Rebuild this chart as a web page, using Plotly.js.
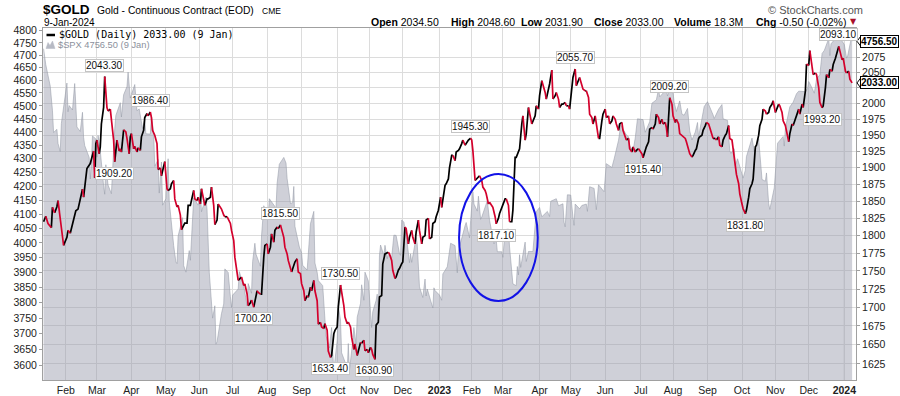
<!DOCTYPE html>
<html><head><meta charset="utf-8">
<script src="https://cdn.plot.ly/plotly-3.0.1.min.js"></script>
<style>html,body{margin:0;padding:0;background:#fff;}#chart{width:900px;height:396px;}</style>
</head><body><div id="chart"></div>
<script>
// ---------------- DATA ----------------
const goldDates = [
'2022-01-12','2022-01-14','2022-01-16','2022-01-19','2022-01-20','2022-01-22','2022-01-24','2022-01-25','2022-01-27','2022-01-29','2022-01-30',
'2022-02-02','2022-02-03','2022-02-05','2022-02-08','2022-02-10','2022-02-12','2022-02-14','2022-02-16','2022-02-17','2022-02-19','2022-02-20','2022-02-23','2022-02-24','2022-02-26','2022-02-27','2022-02-28',
'2022-03-01','2022-03-03','2022-03-04','2022-03-05','2022-03-07','2022-03-08','2022-03-10','2022-03-11','2022-03-13','2022-03-14','2022-03-16','2022-03-17','2022-03-19','2022-03-21','2022-03-22','2022-03-23','2022-03-25','2022-03-27','2022-03-28','2022-03-30','2022-03-31',
'2022-04-01','2022-04-03','2022-04-04','2022-04-06','2022-04-07','2022-04-09','2022-04-10','2022-04-12','2022-04-13','2022-04-15','2022-04-16','2022-04-18','2022-04-19','2022-04-20','2022-04-22','2022-04-24','2022-04-25','2022-04-27','2022-04-28','2022-04-30',
'2022-05-01','2022-05-03','2022-05-04','2022-05-06','2022-05-07','2022-05-09','2022-05-10','2022-05-12','2022-05-13','2022-05-15','2022-05-16','2022-05-18','2022-05-19','2022-05-21','2022-05-22','2022-05-24','2022-05-25','2022-05-27','2022-05-28','2022-05-30','2022-05-31',
'2022-06-02','2022-06-03','2022-06-05','2022-06-06','2022-06-08','2022-06-09','2022-06-11','2022-06-12','2022-06-14','2022-06-15','2022-06-17','2022-06-18','2022-06-20','2022-06-21','2022-06-23','2022-06-24','2022-06-26','2022-06-29','2022-06-30',
'2022-07-02','2022-07-03','2022-07-05','2022-07-06','2022-07-08','2022-07-09','2022-07-11','2022-07-12','2022-07-14','2022-07-15','2022-07-17','2022-07-18','2022-07-20','2022-07-21','2022-07-23','2022-07-24','2022-07-26','2022-07-27','2022-07-29','2022-07-30',
'2022-08-01','2022-08-02','2022-08-04','2022-08-05','2022-08-07','2022-08-08','2022-08-10','2022-08-11','2022-08-13','2022-08-14','2022-08-16','2022-08-17','2022-08-19','2022-08-20','2022-08-22','2022-08-23','2022-08-25','2022-08-26','2022-08-28','2022-08-29','2022-08-31',
'2022-09-01','2022-09-03','2022-09-04','2022-09-06','2022-09-07','2022-09-09','2022-09-10','2022-09-12','2022-09-13','2022-09-15','2022-09-16','2022-09-18','2022-09-19','2022-09-21','2022-09-22','2022-09-24','2022-09-25','2022-09-27','2022-09-28','2022-09-30',
'2022-10-01','2022-10-03','2022-10-04','2022-10-06','2022-10-07','2022-10-09','2022-10-10','2022-10-12','2022-10-13','2022-10-15','2022-10-16','2022-10-18','2022-10-19','2022-10-21','2022-10-22','2022-10-24','2022-10-25','2022-10-27','2022-10-28','2022-10-30','2022-10-31',
'2022-11-02','2022-11-03','2022-11-04','2022-11-06','2022-11-07','2022-11-09','2022-11-10','2022-11-12','2022-11-13','2022-11-15','2022-11-16','2022-11-18','2022-11-19','2022-11-21','2022-11-22','2022-11-24','2022-11-25','2022-11-27','2022-11-28','2022-11-30',
'2022-12-01','2022-12-03','2022-12-04','2022-12-06','2022-12-07','2022-12-09','2022-12-10','2022-12-12','2022-12-13','2022-12-15','2022-12-16','2022-12-18','2022-12-19','2022-12-21','2022-12-22','2022-12-24','2022-12-25','2022-12-27','2022-12-28','2022-12-30','2022-12-31',
'2023-01-02','2023-01-04','2023-01-05','2023-01-06','2023-01-08','2023-01-09','2023-01-11','2023-01-12','2023-01-14','2023-01-15','2023-01-17','2023-01-18','2023-01-20','2023-01-21','2023-01-23','2023-01-24','2023-01-26','2023-01-27','2023-01-29','2023-01-31',
'2023-02-01','2023-02-02','2023-02-04','2023-02-05','2023-02-07','2023-02-08','2023-02-10','2023-02-11','2023-02-13','2023-02-14','2023-02-16','2023-02-17','2023-02-19','2023-02-20','2023-02-22','2023-02-23','2023-02-25','2023-02-26','2023-02-28',
'2023-03-01','2023-03-03','2023-03-04','2023-03-06','2023-03-07','2023-03-09','2023-03-10','2023-03-11','2023-03-12','2023-03-13','2023-03-15','2023-03-16','2023-03-18','2023-03-19','2023-03-21','2023-03-22','2023-03-24','2023-03-25','2023-03-27','2023-03-28','2023-03-30','2023-03-31',
'2023-04-02','2023-04-03','2023-04-05','2023-04-06','2023-04-08','2023-04-09','2023-04-11','2023-04-12','2023-04-14','2023-04-15','2023-04-17','2023-04-18','2023-04-20','2023-04-21','2023-04-23','2023-04-24','2023-04-26','2023-04-27','2023-04-29','2023-04-30',
'2023-05-02','2023-05-03','2023-05-05','2023-05-06','2023-05-08','2023-05-09','2023-05-11','2023-05-12','2023-05-14','2023-05-15','2023-05-17','2023-05-18','2023-05-20','2023-05-21','2023-05-23','2023-05-24','2023-05-26','2023-05-27','2023-05-29','2023-05-30',
'2023-06-01','2023-06-02','2023-06-04','2023-06-05','2023-06-07','2023-06-08','2023-06-10','2023-06-11','2023-06-13','2023-06-14','2023-06-16','2023-06-17','2023-06-19','2023-06-20','2023-06-22','2023-06-23','2023-06-25','2023-06-26','2023-06-28','2023-06-29',
'2023-07-01','2023-07-02','2023-07-04','2023-07-05','2023-07-07','2023-07-08','2023-07-10','2023-07-11','2023-07-13','2023-07-14','2023-07-16','2023-07-17','2023-07-19','2023-07-20','2023-07-22','2023-07-23','2023-07-25','2023-07-26','2023-07-27','2023-07-28','2023-07-29','2023-07-31',
'2023-08-01','2023-08-03','2023-08-04','2023-08-06','2023-08-07','2023-08-09','2023-08-10','2023-08-12','2023-08-13','2023-08-15','2023-08-16','2023-08-18','2023-08-19','2023-08-21','2023-08-22','2023-08-24','2023-08-25','2023-08-27','2023-08-28','2023-08-30','2023-08-31',
'2023-09-02','2023-09-03','2023-09-05','2023-09-06','2023-09-08','2023-09-09','2023-09-11','2023-09-12','2023-09-14','2023-09-15','2023-09-17','2023-09-18','2023-09-20','2023-09-21','2023-09-23','2023-09-24','2023-09-26','2023-09-27','2023-09-29','2023-09-30',
'2023-10-02','2023-10-03','2023-10-05','2023-10-06','2023-10-08','2023-10-09','2023-10-11','2023-10-12','2023-10-14','2023-10-15','2023-10-17','2023-10-18','2023-10-20','2023-10-21','2023-10-23','2023-10-24','2023-10-26','2023-10-27','2023-10-29','2023-10-30',
'2023-11-01','2023-11-02','2023-11-04','2023-11-05','2023-11-07','2023-11-08','2023-11-10','2023-11-11','2023-11-13','2023-11-14','2023-11-16','2023-11-17','2023-11-19','2023-11-20','2023-11-22','2023-11-23','2023-11-25','2023-11-26','2023-11-28','2023-11-29',
'2023-12-01','2023-12-02','2023-12-04','2023-12-05','2023-12-07','2023-12-08','2023-12-10','2023-12-11','2023-12-13','2023-12-14','2023-12-16','2023-12-17','2023-12-19','2023-12-20','2023-12-22','2023-12-23','2023-12-25','2023-12-26','2023-12-28','2023-12-29','2023-12-31',
'2024-01-01','2024-01-03','2024-01-04','2024-01-06','2024-01-07','2024-01-09'
];
const goldClose = [
1820,1828,1817.5,1811.5,1841,1833,1842,1851,1822.5,1793,1786,
1797.6,1807.5,1803.5,1822.5,1836,1838.5,1856,1867.8,1856,1880.8,1899,1906.4,1913.5,1925.5,1885,1937,
1942.5,1921.4,1932,1967.5,1993.6,2043.3,1993.6,1988,1991,1972.5,1942.5,1909.2,1942.5,1925.5,1929,1924,1958.5,1955,1945,1921.4,1947.5,
1952.5,1929,1932.8,1924,1930.7,1926.5,1947.5,1957.5,1977.7,1984,1980.3,1986.4,1977.7,1957.5,1950,1937,1897.3,1900,1888,1905.2,
1909.4,1868.5,1866,1868.5,1876,1880.8,1853.5,1841.5,1844,1829.7,1808.5,1816,1818,1818,1844,1844,1853.5,1866,1853.5,1851,1856,
1846,1868.5,1848.6,1844,1853.5,1853.5,1856,1871,1844,1816,1822.5,1846,1841,1838.5,1829.7,1827.3,1827.3,1817.5,1807.5,
1793,1769.4,1748.6,1736.8,1739.2,1741.5,1729.7,1732,1718.2,1702.3,1706,1710,1700.2,1709,1722.6,1720.3,1718,1718,1769.4,1786,
1788.2,1774,1783.5,1802.5,1790.6,1807.5,1812.5,1810,1815.5,1810,1797.6,1783.5,1774,1764.8,1751,1748.6,1760.2,1762.5,1767.1,1748.6,1746.3,
1732.4,1722.6,1709,1715.9,1713.6,1727.4,1722.6,1736.8,1722.6,1709,1677.3,1679.5,1673.7,1671.5,1678,1669.3,1641.8,1633.4,1636,1664.5,
1669,1673.6,1700,1730.5,1722.6,1702.3,1686.8,1678,1680.2,1673.6,1660,1644,1651,1636,1641,1653,1652,1656,1642,1644,1639.5,
1646.5,1644,1637.3,1630.9,1676,1680,1714,1716,1760,1774,1775,1776.4,1774,1764.8,1751,1739.4,1741.7,1751,1753.3,1760.2,
1762.5,1812.5,1810,1788.2,1797.6,1807.5,1797.6,1788.2,1805,1822.5,1807.5,1788.2,1797.6,1800,1822.5,1825,1795.3,1797.6,1817.5,1820,1827.3,
1836.8,1856,1841,1853.5,1873.6,1876,1883.2,1900,1918.8,1918.8,1911,1924,1926.5,1929,1937,1942.5,1934.5,1937,1942.5,1945.3,
1942.5,1926.5,1880.8,1883,1885.6,1888,1881,1871,1866,1861,1846,1848.6,1844,1841,1827.3,1817.1,1825,1832,1841,
1844,1853.5,1853.5,1844,1820,1820,1837,1895,1915.8,1915.8,1926.5,1929,1967.5,1980.3,1942.5,1952.5,1993.6,1985.7,1967.5,1972.5,1980.3,1996.3,
1991,2012.4,2036.7,2031.3,2017.6,2007,2020.3,2031.3,2054,2007,2012.4,2017.6,2007,1993.6,1999,1999,2001.6,1996.3,1996.3,1991,
2023,2041.8,2055.7,2028.6,2039.6,2041.8,2031.3,2023,2020.3,2020.3,2009.6,1983,1977.7,1967.5,1980.3,1970,1945,1945,1972.5,1983,
1991,1977.7,1980.3,1967.5,1972.5,1980.3,1975,1967.5,1957.5,1967.5,1970,1957.5,1947.5,1942.5,1945,1929,1924,1932,1924,1926.5,
1929,1926.5,1921.4,1915.4,1929,1932,1939.8,1959.5,1962,1959.5,1967.5,1983,1977.7,1967.5,1975,1967.5,1970,1962,1947.5,1972.5,2009.2,1999,
1980.3,1970,1975,1967.5,1952.5,1950,1947.5,1945,1940,1929,1921.4,1916.2,1918.8,1926.5,1929,1945,1947.5,1950,1957.5,1965,1970,
1967.5,1962,1952.5,1945,1945,1942.5,1947.5,1934.5,1932,1942.5,1950,1952.5,1965,1945,1942.5,1929,1911,1890,1876,1861,
1846,1839,1831.8,1837,1856,1868.5,1876,1883,1932,1934.5,1950,1965,1975,1991,1988,1983,1985.7,1993.6,1999,2004.3,
1985.7,1991,1999,1996.3,1985.7,1972.5,1965,1955,1940,1952.5,1967.5,1965,1975,1980.3,1991,1983,1999,1993.6,2020.3,2064,
2061.4,2086,2052,2046.6,2049.3,2046.6,2025.5,2001.6,1993.2,1996,2025.5,2046.6,2041.3,2055,2052,2063,2073.5,2081.3,2093.1,2084,2071,
2073.5,2052,2049.3,2052,2039,2033
];

const spxDates = [
'2022-01-12','2022-01-14','2022-01-18','2022-01-20','2022-01-21','2022-01-24','2022-01-25','2022-01-27','2022-01-28','2022-01-31',
'2022-02-02','2022-02-03','2022-02-04','2022-02-07','2022-02-09','2022-02-10','2022-02-11','2022-02-14','2022-02-16','2022-02-17','2022-02-18','2022-02-22','2022-02-23','2022-02-24','2022-02-25','2022-02-28',
'2022-03-01','2022-03-02','2022-03-04','2022-03-07','2022-03-08','2022-03-09','2022-03-11','2022-03-14','2022-03-15','2022-03-16','2022-03-17','2022-03-18','2022-03-22','2022-03-23','2022-03-25','2022-03-28','2022-03-29','2022-03-31',
'2022-04-01','2022-04-04','2022-04-06','2022-04-08','2022-04-11','2022-04-13','2022-04-14','2022-04-18','2022-04-19','2022-04-21','2022-04-22','2022-04-25','2022-04-26','2022-04-28','2022-04-29',
'2022-05-02','2022-05-04','2022-05-05','2022-05-09','2022-05-11','2022-05-12','2022-05-13','2022-05-17','2022-05-18','2022-05-20','2022-05-23','2022-05-24','2022-05-26','2022-05-27','2022-05-31',
'2022-06-02','2022-06-03','2022-06-07','2022-06-08','2022-06-09','2022-06-10','2022-06-13','2022-06-15','2022-06-16','2022-06-17','2022-06-21','2022-06-23','2022-06-24','2022-06-27','2022-06-29','2022-06-30',
'2022-07-01','2022-07-06','2022-07-07','2022-07-11','2022-07-14','2022-07-15','2022-07-18','2022-07-19','2022-07-21','2022-07-22','2022-07-26','2022-07-27','2022-07-29',
'2022-08-02','2022-08-03','2022-08-05','2022-08-09','2022-08-10','2022-08-12','2022-08-16','2022-08-18','2022-08-19','2022-08-22','2022-08-24','2022-08-25','2022-08-26','2022-08-30',
'2022-09-01','2022-09-02','2022-09-06','2022-09-08','2022-09-09','2022-09-12','2022-09-13','2022-09-15','2022-09-16','2022-09-20','2022-09-22','2022-09-23','2022-09-26','2022-09-28','2022-09-29','2022-09-30',
'2022-10-03','2022-10-04','2022-10-06','2022-10-07','2022-10-10','2022-10-12','2022-10-13','2022-10-14','2022-10-17','2022-10-18','2022-10-20','2022-10-21','2022-10-24','2022-10-25','2022-10-27','2022-10-28','2022-10-31',
'2022-11-02','2022-11-03','2022-11-04','2022-11-07','2022-11-08','2022-11-09','2022-11-10','2022-11-11','2022-11-14','2022-11-15','2022-11-17','2022-11-18','2022-11-21','2022-11-23','2022-11-25','2022-11-28','2022-11-29','2022-11-30',
'2022-12-02','2022-12-05','2022-12-07','2022-12-08','2022-12-09','2022-12-13','2022-12-14','2022-12-15','2022-12-16','2022-12-19','2022-12-21','2022-12-22','2022-12-23','2022-12-28','2022-12-29','2022-12-30',
'2023-01-03','2023-01-05','2023-01-06','2023-01-10','2023-01-12','2023-01-13','2023-01-17','2023-01-18','2023-01-19','2023-01-20','2023-01-23','2023-01-26','2023-01-27','2023-01-30','2023-01-31',
'2023-02-02','2023-02-03','2023-02-06','2023-02-07','2023-02-09','2023-02-10','2023-02-14','2023-02-15','2023-02-17','2023-02-21','2023-02-23','2023-02-24','2023-02-28',
'2023-03-01','2023-03-03','2023-03-06','2023-03-07','2023-03-09','2023-03-10','2023-03-13','2023-03-14','2023-03-15','2023-03-16','2023-03-17','2023-03-21','2023-03-22','2023-03-24','2023-03-28','2023-03-29','2023-03-31',
'2023-04-03','2023-04-05','2023-04-10','2023-04-12','2023-04-13','2023-04-18','2023-04-20','2023-04-24','2023-04-25','2023-04-26','2023-04-28',
'2023-05-01','2023-05-03','2023-05-04','2023-05-05','2023-05-09','2023-05-11','2023-05-15','2023-05-16','2023-05-18','2023-05-22','2023-05-24','2023-05-26','2023-05-31',
'2023-06-02','2023-06-07','2023-06-09','2023-06-13','2023-06-15','2023-06-20','2023-06-22','2023-06-23','2023-06-26','2023-06-28','2023-06-30',
'2023-07-05','2023-07-07','2023-07-11','2023-07-13','2023-07-17','2023-07-19','2023-07-20','2023-07-24','2023-07-26','2023-07-27','2023-07-31',
'2023-08-02','2023-08-04','2023-08-07','2023-08-09','2023-08-11','2023-08-14','2023-08-16','2023-08-18','2023-08-21','2023-08-23','2023-08-24','2023-08-25','2023-08-29','2023-08-31',
'2023-09-01','2023-09-06','2023-09-07','2023-09-11','2023-09-14','2023-09-15','2023-09-19','2023-09-21','2023-09-22','2023-09-25','2023-09-26','2023-09-28',
'2023-10-03','2023-10-05','2023-10-06','2023-10-11','2023-10-13','2023-10-17','2023-10-19','2023-10-20','2023-10-23','2023-10-24','2023-10-26','2023-10-27','2023-10-31',
'2023-11-02','2023-11-03','2023-11-08','2023-11-09','2023-11-10','2023-11-14','2023-11-17','2023-11-20','2023-11-22','2023-11-28','2023-11-30',
'2023-12-01','2023-12-04','2023-12-06','2023-12-08','2023-12-11','2023-12-13','2023-12-15','2023-12-19','2023-12-20','2023-12-21','2023-12-26','2023-12-28','2023-12-29',
'2024-01-02','2024-01-04','2024-01-05','2024-01-08','2024-01-09'
];
const spxClose = [
4726,4662,4577,4483,4398,4410,4357,4327,4432,4516,
4589,4477,4501,4484,4587,4504,4419,4402,4475,4380,4349,4305,4226,4288,4385,4374,
4306,4387,4329,4201,4171,4278,4204,4173,4262,4358,4412,4463,4512,4457,4543,4575,4632,4530,
4546,4583,4481,4488,4413,4447,4393,4392,4463,4394,4272,4297,4175,4288,4132,
4155,4300,4147,3991,3935,3930,4024,4088,3923,3901,3974,3941,4058,4158,4132,
4177,4109,4161,4116,4018,3901,3750,3790,3667,3675,3765,3796,3912,3900,3819,3785,
3825,3845,3903,3855,3790,3863,3831,3937,3999,3962,3921,4024,4130,
4091,4155,4145,4122,4210,4280,4305,4284,4228,4138,4141,4199,4058,3986,
3967,3924,3908,3999,4067,4110,3932,3901,3873,3856,3758,3693,3655,3720,3640,3586,
3678,3791,3744,3640,3612,3577,3669,3583,3677,3720,3666,3753,3798,3859,3808,3901,3872,
3760,3720,3771,3807,3828,3749,3956,3993,3957,3992,3946,3965,3950,4027,4026,3964,3958,4080,
4072,3999,3933,3963,3934,4019,3996,3895,3852,3817,3878,3822,3845,3783,3849,3840,
3825,3808,3895,3919,3983,3999,3991,3929,3899,3973,4020,4060,4071,4018,4077,
4180,4136,4111,4164,4082,4090,4136,4148,4079,3997,4012,3970,3970,
3951,4046,4048,3986,3918,3862,3856,3920,3892,3960,3917,4003,3937,3971,3971,4028,4109,
4124,4091,4110,4092,4146,4155,4130,4137,4072,4056,4169,
4168,4091,4061,4136,4119,4131,4136,4110,4198,4192,4116,4205,4180,
4282,4268,4299,4369,4426,4389,4382,4348,4329,4377,4450,
4447,4399,4439,4510,4523,4566,4535,4554,4567,4538,4589,
4513,4478,4519,4468,4464,4490,4404,4370,4400,4436,4376,4406,4497,4508,
4516,4465,4451,4487,4505,4450,4444,4330,4320,4337,4274,4300,
4229,4258,4308,4377,4327,4374,4278,4224,4218,4248,4137,4117,4194,
4318,4358,4383,4347,4415,4496,4514,4547,4557,4555,4568,
4595,4569,4549,4604,4622,4707,4719,4768,4698,4746,4775,4783,4770,
4743,4688,4697,4764,4756.5
];

const markDates  = ['2022-03-08','2022-03-17','2022-04-18','2022-07-20','2022-08-13','2022-09-27','2022-10-06','2022-11-06','2023-01-31','2023-02-23','2023-05-05','2023-07-05','2023-07-29','2023-10-05','2023-12-13','2023-12-28'];
const markValues = [2043.30,1909.20,1986.40,1700.20,1815.50,1633.40,1730.50,1630.90,1945.30,1817.10,2055.70,1915.40,2009.20,1831.80,1993.20,2093.10];
const markSide   = ['hi','lo','hi','lo','hi','lo','hi','lo','hi','lo','hi','lo','hi','lo','lo','hi'];

const goldTicks = [1625,1650,1675,1700,1725,1750,1775,1800,1825,1850,1875,1900,1925,1950,1975,2000,2025,2050,2075];
const spxTicks  = [3600,3650,3700,3750,3800,3850,3900,3950,4000,4050,4100,4150,4200,4250,4300,4350,4400,4450,4500,4550,4600,4650,4700,4750,4800];
const monthTicks = ['2022-02-01','2022-03-01','2022-04-01','2022-05-02','2022-06-01','2022-07-01','2022-08-01','2022-09-01','2022-10-03','2022-11-01','2022-12-01',
                    '2023-01-03','2023-02-01','2023-03-01','2023-04-03','2023-05-01','2023-06-01','2023-07-03','2023-08-01','2023-09-01','2023-10-02','2023-11-01','2023-12-01','2024-01-02'];
const monthLabels = ['Feb','Mar','Apr','May','Jun','Jul','Aug','Sep','Oct','Nov','Dec','<b>2023</b>','Feb','Mar','Apr','May','Jun','Jul','Aug','Sep','Oct','Nov','Dec','<b>2024</b>'];

const statLabels = ['Open','High','Low','Close','Volume','Chg'];
const statValues = ['2034.50','2048.60','2031.90','2033.00','18.3M','-0.50 (-0.02%)'];
const goldLast = 2033.00, spxLast = 4756.50;

// ---------------- BUILD ----------------
const L=43, R=856, T=28, B=380;
const px = x => (x-L)/(R-L);
const py = y => (B-y)/(B-T);
const spxRange  = [Math.log10(3556), Math.log10(4811)];
const goldRange = [Math.log10(1604.3), Math.log10(2124)];
const onAxis = (v, r) => (Math.log10(v)-r[0])/(r[1]-r[0]);

function buildRuns(d, v){
  const up={x:[],y:[]}, dn={x:[],y:[]};
  let prev=null;
  for(let i=1;i<d.length;i++){
    const dir = v[i]>=v[i-1] ? 'up' : 'dn';
    const t = dir==='up' ? up : dn;
    if(dir!==prev){
      if(t.x.length){ t.x.push(null); t.y.push(null); }
      t.x.push(d[i-1]); t.y.push(v[i-1]);
    }
    t.x.push(d[i]); t.y.push(v[i]);
    prev=dir;
  }
  return {up,dn};
}
const runs = buildRuns(goldDates, goldClose);

const traces = [
  {x:spxDates, y:spxClose, type:'scatter', mode:'lines', fill:'tozeroy',
   fillcolor:'rgba(150,153,170,0.46)', line:{color:'rgba(150,154,168,0.55)', width:1},
   xaxis:'x', yaxis:'y', hoverinfo:'skip'},
  {x:runs.up.x, y:runs.up.y, type:'scatter', mode:'lines', connectgaps:false,
   line:{color:'#000000', width:1.7}, xaxis:'x', yaxis:'y2', hoverinfo:'skip'},
  {x:runs.dn.x, y:runs.dn.y, type:'scatter', mode:'lines', connectgaps:false,
   line:{color:'#d4002c', width:1.7}, xaxis:'x', yaxis:'y2', hoverinfo:'skip'}
];

const SANS = 'Liberation Sans, Arial, sans-serif';
const ann = [];
markDates.forEach((d,i)=>{
  const hi = markSide[i]==='hi';
  ann.push({x:d, y:Math.log10(markValues[i]), xref:'x', yref:'y2', text:markValues[i].toFixed(2),
    showarrow:false, xanchor:'center', yanchor: hi?'bottom':'top', yshift: hi?5:-5,
    bgcolor:'#ffffff', bordercolor:'#c4c4c4', borderwidth:1, borderpad:0,
    font:{family:SANS, size:10, color:'#111'}});
});
ann.push({xref:'paper', x:1, xanchor:'left', xshift:4, yref:'y2', y:Math.log10(goldLast), yanchor:'middle',
  text:'<b>'+goldLast.toFixed(2)+'</b>', showarrow:false, bgcolor:'#fff', bordercolor:'#000', borderwidth:1, borderpad:0,
  font:{family:SANS, size:10, color:'#000'}});
ann.push({xref:'paper', x:1, xanchor:'left', xshift:4, yref:'y', y:Math.log10(spxLast), yanchor:'middle',
  text:'<b>'+spxLast.toFixed(2)+'</b>', showarrow:false, bgcolor:'#fff', bordercolor:'#000', borderwidth:1, borderpad:0,
  font:{family:SANS, size:10, color:'#000'}});
function txt(x,y,text,font,anchor){
  ann.push({xref:'paper', yref:'paper', x:px(x), y:py(y), text:text, showarrow:false,
    xanchor:anchor||'left', yanchor:'middle', font:font, borderpad:0});
}
txt(42,9.5,'<b>$GOLD</b>',{family:SANS, size:13.5, color:'#000'});
txt(96,10.5,'Gold - Continuous Contract (EOD)',{family:SANS, size:10.3, color:'#000'});
txt(261,11,'CME',{family:SANS, size:8.5, color:'#000'});
txt(43,22.5,'9-Jan-2024',{family:SANS, size:10, color:'#000'});
const statX = [370,450,520,592.7,672.7,755];
statLabels.forEach((l,i)=> txt(statX[i],22,'<b>'+l+'</b> '+statValues[i],{family:SANS, size:10.5, color:'#000'}));
txt(849,22,'▼',{family:'DejaVu Sans, sans-serif', size:8, color:'#a8102a'});
txt(767,9.5,'© StockCharts.com',{family:SANS, size:11, color:'#555'});
txt(58,34.5,'$GOLD (Daily) '+goldLast.toFixed(2)+' (9 Jan)',{family:'DejaVu Sans Mono, monospace', size:10, color:'#000'});
txt(57,45,'$SPX '+spxLast.toFixed(2)+' (9 Jan)',{family:SANS, size:9.3, color:'#8b909c'});

function chevron(pyv){
  const x0 = 1 + 1/(R-L), x1 = 1 + 5.5/(R-L), h = 6/(B-T);
  return {type:'path', xref:'paper', yref:'paper',
    path:'M '+x1+' '+(pyv+h)+' L '+x0+' '+pyv+' L '+x1+' '+(pyv-h)+' Z',
    fillcolor:'#ffffff', line:{color:'#000', width:1}};
}

const shapes = [
  {type:'line', xref:'x', yref:'paper', x0:'2023-01-03', x1:'2023-01-03', y0:0, y1:1, line:{color:'#bdbdbd', width:1}, layer:'below'},
  {type:'line', xref:'x', yref:'paper', x0:'2024-01-02', x1:'2024-01-02', y0:0, y1:1, line:{color:'#bdbdbd', width:1}, layer:'below'},
  {type:'circle', xref:'x', yref:'paper', x0:'2023-01-20 14:00', x1:'2023-04-01 09:00', y0:py(301), y1:py(174),
   line:{color:'#1212e6', width:2}, fillcolor:'rgba(0,0,0,0)'},
  {type:'line', xref:'paper', yref:'paper', x0:px(46.5), x1:px(55), y0:py(35), y1:py(35), line:{color:'#000', width:2.5}},
  {type:'path', xref:'paper', yref:'paper',
   path:'M '+px(46)+' '+py(48.5)+' L '+px(48)+' '+py(42.5)+' L '+px(50)+' '+py(45.5)+' L '+px(52.5)+' '+py(41)+' L '+px(55)+' '+py(48.5)+' Z',
   fillcolor:'#b7bac4', line:{color:'#b7bac4', width:0.5}},
  chevron(onAxis(goldLast, goldRange)),
  chevron(onAxis(spxLast, spxRange))
];

const layout = {
  width:900, height:396,
  margin:{l:L, r:900-R, t:T, b:396-B, pad:0},
  paper_bgcolor:'#ffffff', plot_bgcolor:'#ffffff', showlegend:false,
  font:{family:SANS, size:10.5, color:'#222'},
  xaxis:{type:'date', range:['2022-01-11 12:00','2024-01-12 12:00'],
    tickmode:'array', tickvals:monthTicks, ticktext:monthLabels,
    showgrid:true, gridcolor:'#dcdcdc', gridwidth:1, zeroline:false,
    showline:true, linecolor:'#a0a0a0', linewidth:1, mirror:true, ticks:'',
    tickfont:{family:SANS, size:10.5, color:'#222'}, fixedrange:true},
  yaxis:{type:'log', side:'left', range:spxRange,
    tickmode:'array', tickvals:spxTicks, ticktext:spxTicks.map(String),
    showgrid:false, zeroline:false, showline:true, linecolor:'#a0a0a0', linewidth:1,
    ticks:'outside', ticklen:3, tickcolor:'#a0a0a0',
    tickfont:{family:SANS, size:10.5, color:'#222'}, fixedrange:true},
  yaxis2:{type:'log', side:'right', overlaying:'y', range:goldRange,
    tickmode:'array', tickvals:goldTicks,
    ticktext:goldTicks.map(v => Math.abs(Math.log10(v/goldLast))<0.003 ? '' : String(v)),
    showgrid:true, gridcolor:'#dcdcdc', gridwidth:1, zeroline:false,
    showline:true, linecolor:'#a0a0a0', linewidth:1,
    ticks:'outside', ticklen:3, tickcolor:'#a0a0a0',
    tickfont:{family:SANS, size:10.5, color:'#222'}, fixedrange:true},
  annotations: ann,
  shapes: shapes
};

Plotly.newPlot('chart', traces, layout, {displayModeBar:false, staticPlot:true});
</script>
</body></html>
